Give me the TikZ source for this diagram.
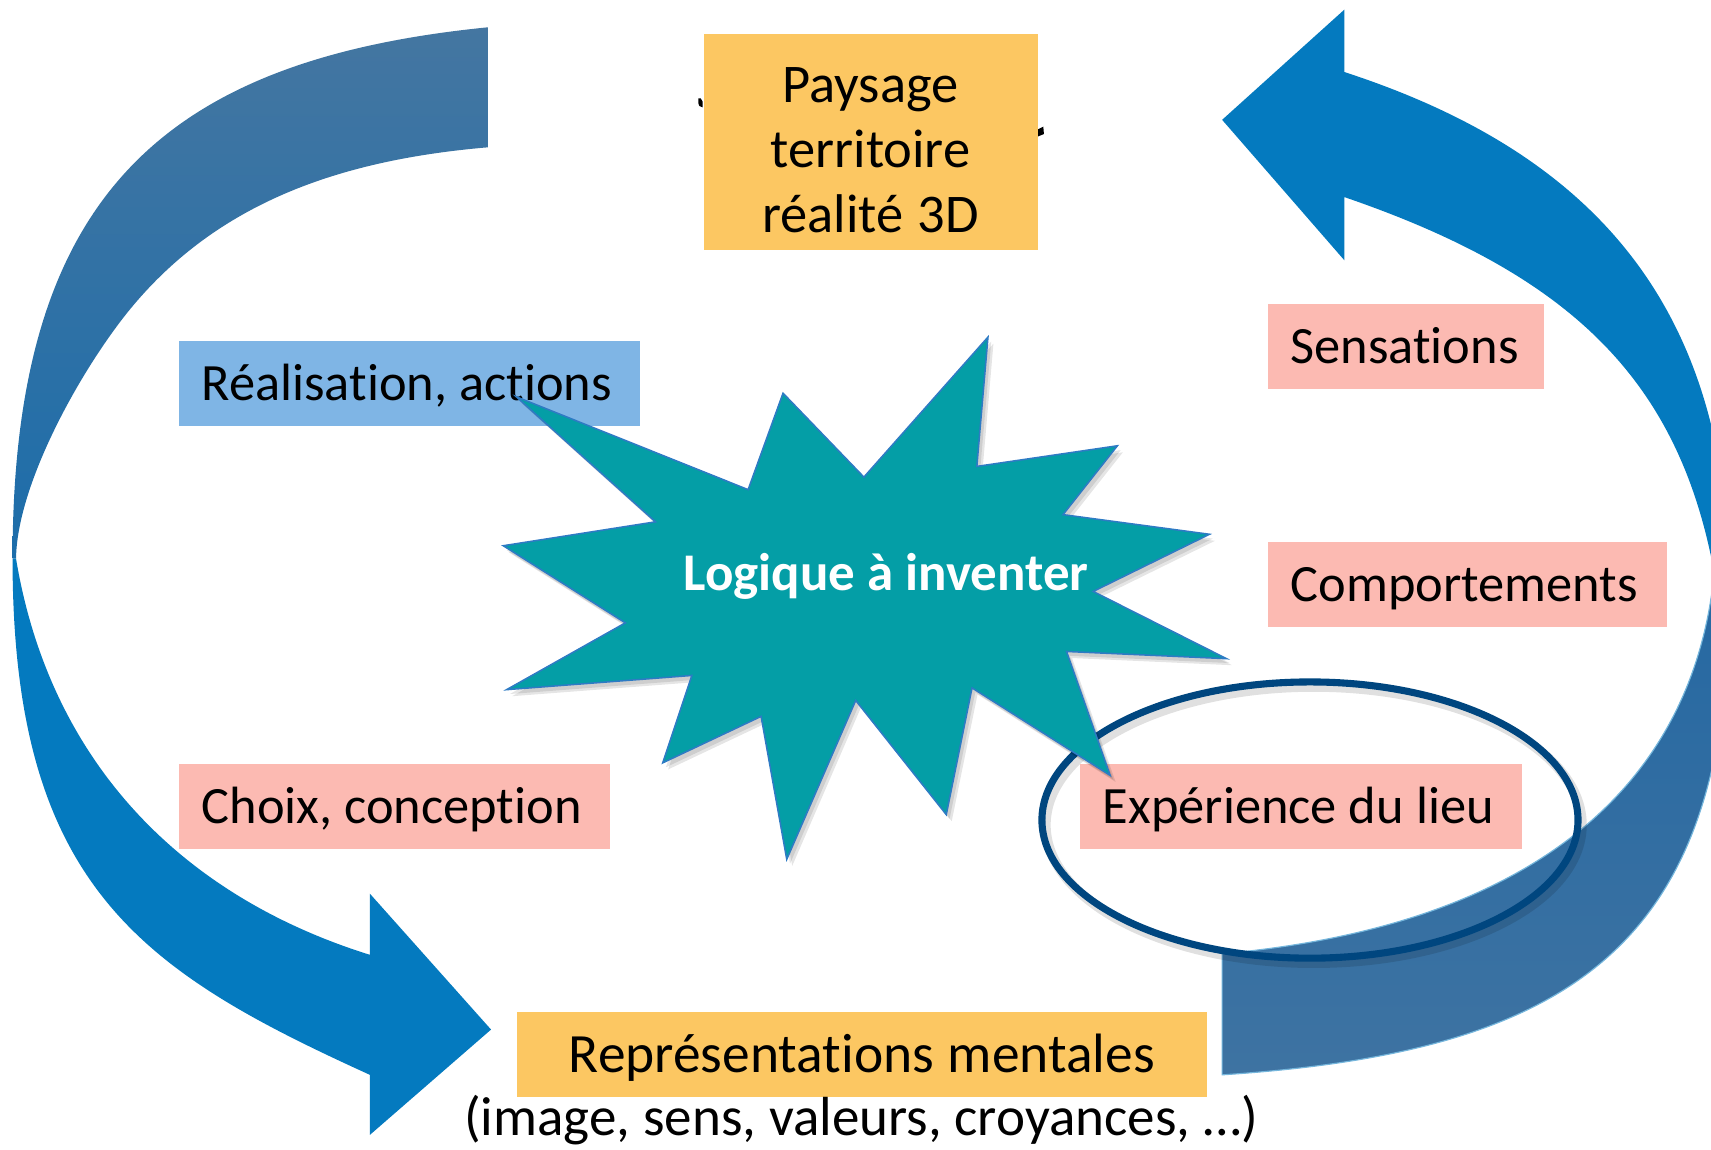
\documentclass[tikz,border=0pt]{standalone}
\usepackage{fontspec}
\setmainfont{Carlito}[Ligatures={NoCommon,NoContextual}]
\usetikzlibrary{shapes.geometric}
\definecolor{boxyellow}{HTML}{FCC762}
\definecolor{boxblue}{HTML}{7FB5E5}
\definecolor{boxpink}{HTML}{FCBAB2}
\definecolor{arrowblue}{HTML}{047ABF}
\definecolor{steeltop}{HTML}{4476A1}
\definecolor{steelmid}{HTML}{1C6DAA}
\definecolor{steeldark}{HTML}{2568A2}
\definecolor{steellow}{HTML}{3E73A2}
\definecolor{burstteal}{HTML}{049EA6}
\definecolor{burstedge}{HTML}{2E7BC4}
\definecolor{ringnavy}{HTML}{00467F}
\newcommand\tightsp{\fontdimen2\font=0.23\fontdimen6\font\spaceskip=0.23em plus 0.08em minus 0.05em\relax}
\newcommand\fsnormal{\fontsize{13.66pt}{16.4pt}\selectfont}
\newcommand\lftxt[1]{\hbox to\linewidth{\tightsp#1\hss}}
\newcommand\burstpts{(473.2,363.6) -- (685.6,448.7) -- (717.6,360.3) -- (791.7,437.2) -- (905.4,308.9) -- (895.2,427.4) -- (1024,408.5) -- (974.2,471.6) -- (1108.4,489.6) -- (1001.8,542) -- (1124,603.6) -- (977.4,597) -- (1017.4,710.6) -- (890.8,630.4) -- (867.2,746.5) -- (784.2,641.9) -- (721,787.5) -- (697.5,656.5) -- (607.3,699.1) -- (634,619) -- (464.3,632) -- (573.1,570.8) -- (461.2,500.1) -- (600.7,478.2) -- cycle}
\tikzset{
  lbox/.style={rectangle, anchor=north west, inner xsep=0.21cm, inner ysep=0pt,
    minimum height=0.78cm, text height=0.36cm, text depth=0.05cm,
    align=left, font=\fsnormal},
  pinkbox/.style={lbox, fill=boxpink},
  bluebox/.style={lbox, fill=boxblue},
}
\begin{document}
\begin{tikzpicture}[x=0.01cm, y=-0.01cm]
\useasboundingbox (0,0) rectangle (1568,1053);
\clip (0,0) rectangle (1568,1053);

% ---------- left arrow: upper (back) part ----------
\shade[top color=steeltop, bottom color=steelmid]
  (447,25) .. controls (147,55) and (11.5,182) .. (11.5,512)
  -- (14.7,512) .. controls (15.5,442) and (77,333.6) .. (122,280)
  .. controls (199.2,188.1) and (307,146.9) .. (447,135) -- cycle;
% ---------- left arrow: lower part with head ----------
\fill[arrowblue]
  (11.5,512) .. controls (11.5,812) and (129.7,889.8) .. (339,985)
  -- (339,1040) -- (450,943.5) -- (339,819) -- (339,875)
  .. controls (162.3,819.9) and (45,694.4) .. (14.7,512) -- cycle;

% ---------- right arrow: upper part with head ----------
\fill[arrowblue]
  (1232,8.8) -- (1120,109.8) -- (1232,238.5) -- (1232,180.6)
  .. controls (1440.1,251.9) and (1538.6,348.6) .. (1571,525)
  -- (1585,540) .. controls (1585,290) and (1469.8,143.3) .. (1232,66) -- cycle;
% ---------- right arrow: lower (back) part ----------
\shade[top color=steeldark, bottom color=steellow, draw=arrowblue!55, line width=0.3pt]
  (1585,540) .. controls (1585,860) and (1450,963.5) .. (1120,985)
  -- (1120,874) .. controls (1398.9,849.1) and (1551,725) .. (1571,525) -- cycle;

% ---------- small marks behind the top box ----------
\fill[black] (640,90.1) -- (642.1,90.1) -- (644,93.2) -- (644,98.4) -- (640.9,97.1) -- (640,94.7) -- cycle;
\fill[black] (950,119.1) -- (956.1,116.1) -- (956.7,122.8) -- (950.6,125.3) -- cycle;

% ---------- boxes ----------
\node[rectangle, anchor=north west, fill=boxyellow, inner xsep=0.21cm, inner ysep=0pt,
      minimum height=1.98cm, text width=2.64cm, align=center,
      text height=0.48cm, text depth=1.19cm,
      font=\fontsize{14.2pt}{16.93pt}\selectfont] (pay) at (644,30)
  {\tightsp Paysage\\territoire\\réalité 3D};
\node[bluebox, text width=3.81cm] (real) at (163,312) {\lftxt{Réalisation, actions}};
\node[pinkbox, text width=2.11cm] (sens) at (1161,278) {\lftxt{Sensations}};
\node[pinkbox, text width=3.24cm] (comp) at (1161,496) {\lftxt{Comportements}};
\node[pinkbox, text width=3.53cm] (choix) at (163,699) {\lftxt{Choix, conception}};
\node[pinkbox, text width=3.63cm] (exp) at (989,699) {\lftxt{Expérience du lieu}};
\node[rectangle, anchor=north west, fill=boxyellow, inner xsep=0.21cm, inner ysep=0pt,
      minimum height=0.78cm, text width=5.90cm, align=center,
      text height=0.375cm, text depth=0.05cm,
      font=\fontsize{14.45pt}{17pt}\selectfont] (rep) at (473,927)
  {\tightsp Représentations mentales};
\node[anchor=base, inner sep=0pt, font=\fontsize{14.35pt}{17pt}\selectfont] (repsub) at (789,1041)
  {\tightsp (image, sens, valeurs, croyances, …)};

% ---------- ellipse ----------
\node[ellipse, draw=black, draw opacity=0.12, line width=0.09cm, minimum width=4.91cm, minimum height=2.53cm,
      inner sep=0pt] (ringshadow) at (1204,756) {};
\node[ellipse, draw=ringnavy, line width=0.065cm, minimum width=4.91cm, minimum height=2.53cm,
      inner sep=0pt] (ring) at (1200.5,751.5) {};

% ---------- starburst ----------
\fill[black, opacity=0.10, shift={(5,6)}] \burstpts;
\fill[black, opacity=0.10, shift={(3,4)}] \burstpts;
\filldraw[fill=burstteal, draw=burstedge, line width=0.4pt] \burstpts;
\node[text=white, font=\fontsize{13.8pt}{16.8pt}\selectfont\bfseries, inner sep=0pt, text height=0.36cm, text depth=0.05cm]
  (logic) at (812,525.6) {\tightsp Logique à inventer};
\end{tikzpicture}
\end{document}
